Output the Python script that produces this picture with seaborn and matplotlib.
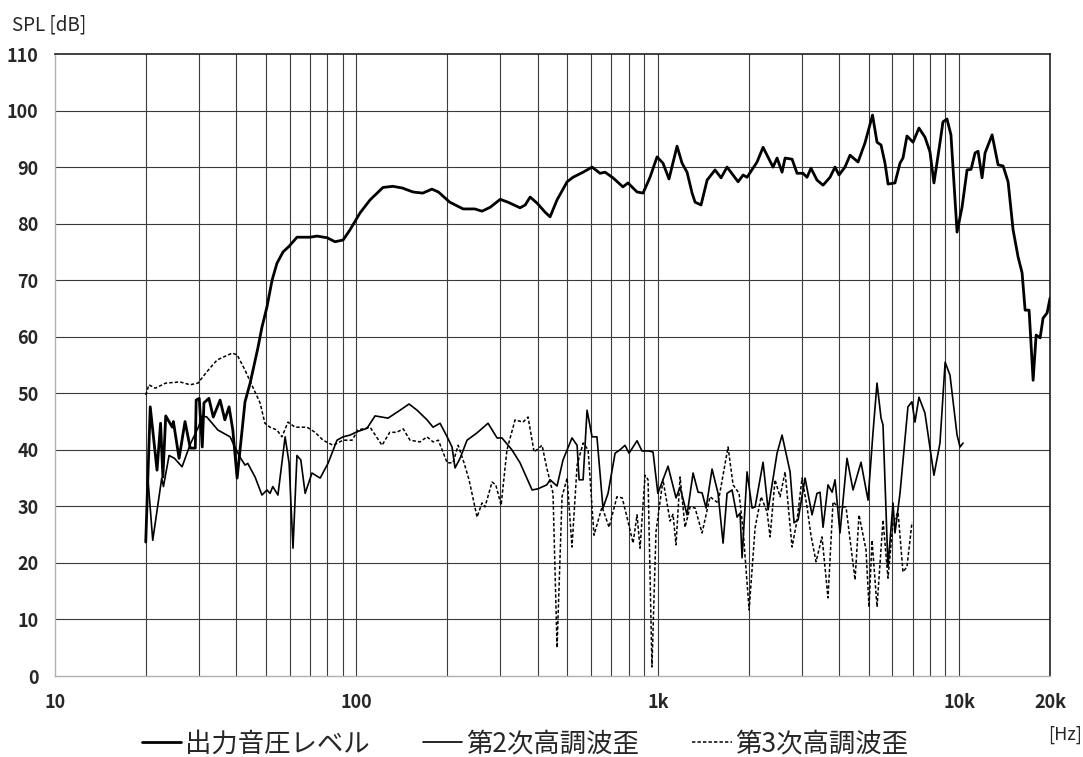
import numpy as np
import pandas as pd
import matplotlib
matplotlib.use("Agg")
import matplotlib.pyplot as plt
import seaborn as sns

# ---- data (frequency in Hz, level in dB) ----
spl_freq = [20.0, 20.7, 21.8, 22.4, 22.8, 23.3, 24.5, 24.7, 25.8, 27.0, 28.1, 29.2, 29.4, 30.1, 30.8,
            31.2, 32.4, 33.5, 35.3, 36.6, 37.8, 38.9, 40.2, 42.7, 44.4, 47.1, 48.6, 50.5, 52.5, 54.5,
            57.1, 59.8, 63.5, 70.2, 74.0, 80.0, 84.9, 90.3, 95.2, 102.8, 111, 122.5, 132, 142, 154,
            166, 178, 187, 204, 226, 247, 261, 278, 300, 318, 349, 363, 377, 398, 423, 439, 463, 500,
            523, 565, 605, 643, 668, 710, 766, 796, 853, 893, 942, 994, 1040, 1089, 1158, 1203, 1250,
            1299, 1329, 1391, 1457, 1548, 1621, 1697, 1804, 1846, 1918, 1977, 2134, 2234, 2411, 2486,
            2583, 2643, 2788, 2897, 3032, 3126, 3221, 3373, 3533, 3726, 3871, 3991, 4177, 4341, 4615,
            4868, 5155, 5335, 5502, 5670, 5805, 6120, 6359, 6505, 6707, 7024, 7350, 7694, 7994, 8242,
            8630, 8829, 9104, 9385, 9833, 10215, 10614, 10943, 11282, 11543, 11903, 12179, 12850,
            13454, 13978, 14522, 15086, 15674, 16160, 16536, 17048, 17580, 17990, 18544, 18972,
            19560, 20000]
spl_db = [23.7, 47.6, 36.4, 44.7, 35.2, 46.0, 44.0, 45.0, 38.5, 45.0, 40.3, 40.3, 48.8, 49.1, 40.5,
          48.3, 49.1, 45.8, 48.8, 45.3, 47.6, 43.5, 35.0, 48.5, 51.8, 58.0, 61.7, 65.3, 70.0, 73.0,
          75.0, 76.0, 77.6, 77.6, 77.8, 77.5, 76.8, 77.1, 78.9, 81.9, 84.2, 86.4, 86.6, 86.3, 85.6,
          85.4, 86.1, 85.6, 83.8, 82.6, 82.6, 82.2, 82.9, 84.3, 83.8, 82.8, 83.3, 84.7, 83.6, 82.0,
          81.2, 84.2, 87.4, 88.2, 89.1, 90.0, 88.9, 89.1, 88.1, 86.5, 87.2, 85.6, 85.4, 88.2, 91.8,
          90.7, 87.9, 93.7, 90.7, 89.1, 85.4, 83.8, 83.3, 87.7, 89.5, 88.1, 90.0, 88.1, 87.4, 88.6,
          88.2, 90.9, 93.5, 90.0, 91.6, 89.1, 91.6, 91.4, 88.9, 88.9, 88.2, 89.8, 87.7, 86.8, 88.2,
          90.0, 88.6, 90.0, 92.1, 90.9, 94.3, 99.2, 94.4, 93.9, 90.7, 87.0, 87.2, 90.7, 91.6, 95.5,
          94.4, 96.9, 95.3, 92.7, 87.2, 94.3, 98.0, 98.5, 95.7, 78.5, 82.9, 89.5, 89.6, 92.5, 92.8,
          88.1, 92.5, 95.7, 90.4, 90.2, 87.4, 78.9, 74.1, 71.3, 64.7, 64.7, 52.3, 60.3, 59.8, 63.3,
          64.2, 66.8]

h2_freq = [20.4, 21.1, 22.6, 22.9, 23.9, 24.9, 26.4, 28.1, 29.9, 30.8, 31.9, 34.7, 38.1, 39.5, 41.1,
           42.7, 43.6, 46.1, 48.6, 50.5, 51.7, 52.8, 54.9, 58.0, 59.8, 61.6, 63.5, 65.4, 67.6, 71.2,
           75.8, 80.5, 86.2, 90.3, 95.2, 100.5, 108.4, 115.3, 127.3, 139.5, 149.5, 159, 171.5, 179.6,
           189.4, 200, 207.6, 212.4, 220.7, 232.8, 251.3, 273.3, 292.8, 304, 328, 349, 382.7, 400,
           428, 439, 463, 484.6, 519, 539.7, 548, 565, 582.3, 605, 628, 657.6, 683.6, 721.4, 749,
           778, 802.5, 853, 886, 935, 964, 1000, 1040, 1081, 1149, 1185, 1250, 1309, 1360, 1402,
           1446, 1513, 1584, 1646, 1697, 1763, 1832, 1874, 1903, 1977, 2054, 2102, 2234, 2322, 2486,
           2583, 2684, 2746, 2831, 2919, 3079, 3248, 3373, 3452, 3533, 3669, 3787, 3871, 4021, 4242,
           4442, 4721, 4981, 5173, 5335, 5502, 5585, 5801, 6028, 6120, 6359, 6757, 6965, 7129, 7350,
           7694, 8242, 8630, 8977, 9317, 9833, 10060, 10295]
h2_db = [34.0, 24.0, 35.0, 33.5, 39.0, 38.5, 37.0, 41.0, 44.0, 46.0, 45.8, 43.5, 42.3, 40.5, 38.7,
         37.3, 37.6, 35.2, 32.0, 32.9, 32.3, 33.5, 32.0, 42.3, 37.6, 22.6, 39.0, 38.2, 32.3, 35.9,
         35.0, 37.6, 41.7, 42.3, 42.6, 43.2, 43.8, 46.0, 45.6, 47.0, 48.1, 47.0, 45.3, 44.0,
         44.7, 42.3, 40.5, 36.8, 38.5, 41.7, 43.0, 44.7, 42.1, 42.1, 40.0, 37.7, 32.9, 33.1,
         33.8, 34.7, 33.6, 38.2, 42.1, 40.8, 34.7, 34.7, 47.0, 42.3, 42.3, 29.7, 32.3, 39.4, 40.0,
         40.8, 39.4, 41.6, 39.8, 39.8, 39.6, 32.3, 34.7, 37.1, 31.5, 33.4, 28.5, 35.9, 32.5, 32.4,
         29.7, 36.6, 32.3, 23.5, 32.3, 32.9, 28.1, 28.8, 20.9, 36.1, 29.7, 29.9, 37.8, 29.4, 39.4,
         42.6, 38.5, 36.1, 27.1, 27.6, 35.0, 28.5, 32.3, 32.5, 26.3, 33.8, 32.5, 34.7, 25.3, 38.5,
         32.9, 37.8, 31.1, 43.0, 51.8, 45.6, 44.4, 19.3, 30.6, 25.3, 32.3, 47.6, 48.5, 44.9, 49.3,
         46.5, 35.5, 41.2, 55.5, 53.2, 42.6, 40.5, 41.2]

h3_freq = [20.0, 20.5, 21.5, 23.3, 26.0, 28.1, 29.8, 31.9, 34.5, 38.7, 40.2, 42.7, 45.3, 47.9, 49.7,
           51.7, 54.5, 56.6, 59.3, 62.6, 68.6, 72.9, 77.5, 83.7, 90.3, 96.7, 101.2, 111, 121.6, 129,
           136, 143, 150.6, 162.6, 171.5, 179.6, 187, 200, 209, 217.6, 227.5, 236.4, 251.3, 261,
           267, 281.8, 290, 302, 315.8, 336, 357, 371, 388.6, 412.9, 428, 449, 463, 481, 500, 519,
           539.7, 565, 587, 614, 653, 689, 731.6, 761.6, 790, 827.5, 853, 873, 907, 928, 956, 986,
           1040, 1098, 1123, 1149, 1185, 1231, 1279, 1329, 1402, 1490, 1584, 1710, 1777, 1860, 1918,
           2008, 2102, 2201, 2304, 2357, 2448, 2544, 2643, 2788, 2897, 3009, 3126, 3221, 3348, 3505,
           3669, 3812, 3960, 4210, 4511, 4650, 4905, 5019, 5136, 5335, 5585, 5801, 6028, 6265, 6505,
           6707, 6970]
h3_db = [49.7, 51.5, 50.9, 51.8, 52.0, 51.5, 51.8, 53.8, 55.9, 57.1, 56.8, 54.1, 51.1, 48.3, 44.7,
         44.0, 43.5, 42.3, 44.9, 44.0, 44.0, 43.1, 41.7, 40.8, 41.7, 41.7, 43.5, 44.0, 40.8, 43.1,
         43.1, 43.7, 41.7, 41.4, 42.3, 41.4, 41.7, 37.7, 37.7, 40.8, 37.7, 34.7, 28.1, 30.6,
         29.9, 34.3, 33.8, 30.2, 40.0, 45.3, 44.9, 45.8, 39.6, 40.8, 36.8, 32.3, 5.0, 31.7, 35.0, 22.8,
         37.3, 41.2, 40.0, 24.9, 29.9, 26.3, 31.7, 31.5, 28.1, 23.5, 28.5, 22.6, 35.5, 34.7, 1.6, 25.5,
         34.7, 27.4, 28.6, 23.2, 35.2, 26.3, 29.9, 29.7, 25.3, 31.7, 30.6, 40.5, 33.8, 32.3, 25.8,
         11.7, 26.2, 31.7, 29.0, 24.6, 34.7, 31.7, 36.1, 22.8, 27.6, 35.0, 29.9, 24.9, 20.2, 24.6,
         13.8, 30.8, 29.9, 29.9, 17.0, 28.5, 22.3, 12.2, 24.0, 12.2, 27.6, 17.3, 27.1, 29.0, 18.4,
         19.3, 27.2]

labels = ["出力音圧レベル", "第2次高調波歪", "第3次高調波歪"]
y_ticks = list(range(0, 111, 10))
x_ticks = [10, 100, 1000, 10000, 20000]
x_tick_labels = ["10", "100", "1k", "10k", "20k"]
x_grid = [20, 30, 40, 50, 60, 70, 80, 90, 100, 200, 300, 400, 500, 600, 700, 800, 900,
          1000, 2000, 3000, 4000, 5000, 6000, 7000, 8000, 9000, 10000]
y_grid = list(range(10, 101, 10))

# ---- style ----
sns.set_theme(style="white")
plt.rcParams["font.family"] = ["Noto Sans CJK JP", "DejaVu Sans"]

fig = plt.figure(figsize=(10.83, 7.57), dpi=100)
ax = fig.add_axes([55 / 1083, 81 / 757, 995 / 1083, 622 / 757])

for g in x_grid:
    ax.axvline(g, color="#3a3a3a", lw=0.8, zorder=1)
for g in y_grid:
    ax.axhline(g, color="#3a3a3a", lw=0.8, zorder=1)

df_spl = pd.DataFrame({"f": spl_freq, "db": spl_db})
df_h2 = pd.DataFrame({"f": h2_freq, "db": h2_db})
df_h3 = pd.DataFrame({"f": h3_freq, "db": h3_db})

sns.lineplot(data=df_spl, x="f", y="db", ax=ax, color="black", lw=2.0,
             estimator=None, label=labels[0], zorder=4)
sns.lineplot(data=df_h2, x="f", y="db", ax=ax, color="black", lw=1.2,
             estimator=None, label=labels[1], zorder=3)
sns.lineplot(data=df_h3, x="f", y="db", ax=ax, color="black", lw=1.1,
             estimator=None, label=labels[2], zorder=3)
ax.lines[-1].set_dashes([2.2, 1.4])

ax.set_xscale("log")
ax.set_xlim(10, 20000)
ax.set_ylim(0, 110)
ax.set_xticks(x_ticks)
ax.set_xticklabels(x_tick_labels)
ax.xaxis.set_minor_locator(matplotlib.ticker.NullLocator())
ax.set_yticks(y_ticks)
ax.set_xlabel("")
ax.set_ylabel("")
ax.tick_params(axis="both", length=0, labelsize=13)
ax.tick_params(axis="x", pad=12)
ax.tick_params(axis="y", pad=12)
for t in ax.get_xticklabels() + ax.get_yticklabels():
    t.set_fontweight("bold")

for side in ["left", "bottom"]:
    ax.spines[side].set_color("#b0b0b0")
    ax.spines[side].set_linewidth(1.0)
for side in ["top", "right"]:
    ax.spines[side].set_color("#202020")
    ax.spines[side].set_linewidth(1.2)

handles, labs = ax.get_legend_handles_labels()
ax.get_legend().remove()
fig.legend(handles, labs, loc="lower center", bbox_to_anchor=(0.485, -0.032), ncol=3,
           frameon=False, fontsize=19, handlelength=1.5, handletextpad=0.15,
           columnspacing=2.0)

fig.text(12 / 1083, 1 - 25 / 757, "SPL [dB]", fontsize=13.5, va="center", ha="left")
fig.text(1065 / 1083, 1 - 735 / 757, "[Hz]", fontsize=13, va="center", ha="center")

fig.savefig("out.png", dpi=100)
